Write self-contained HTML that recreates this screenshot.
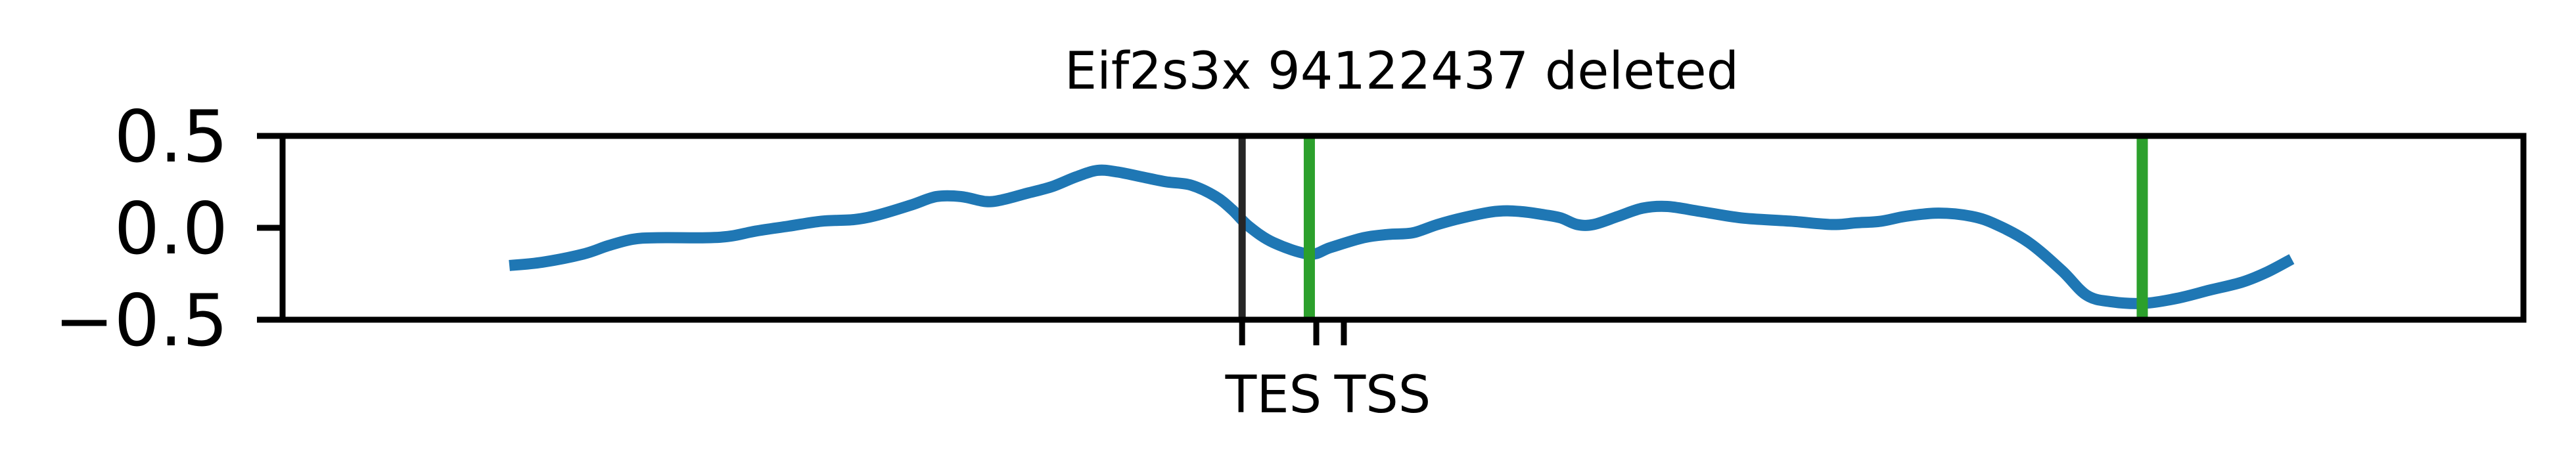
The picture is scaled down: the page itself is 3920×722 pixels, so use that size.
<!DOCTYPE html>
<html><head><meta charset="utf-8">
<style>
html,body{margin:0;padding:0;background:#fff;}
svg{display:block;font-family:"DejaVu Sans","Liberation Sans",sans-serif;}
</style></head>
<body>
<svg id="chart" width="3920" height="722" viewBox="0 0 3920 722" xmlns="http://www.w3.org/2000/svg">
<rect width="3920" height="722" fill="#fff"/>
<text x="2133" y="135" font-size="78" text-anchor="middle">Eif2s3x 94122437 deleted</text>
<g id="plot"></g>
</svg>
<script>
const xPos = [10.12,11.58,13.42,14.52,15.62,16.72,18.91,20.01,21.11,22.58,24.05,25.51,26.61,28.08,29.18,30.28,31.38,32.11,33.21,34.31,35.41,36.36,37.24,38.34,39.44,40.54,41.64,42.38,43.11,44.21,45.82,46.77,48.24,49.34,50.44,51.54,52.64,54.11,55.21,56.30,57.04,57.77,58.50,59.60,60.70,61.80,63.27,65.10,67.30,69.13,70.23,71.33,72.43,73.90,75.37,76.47,77.93,79.40,80.50,81.60,83.06,84.53,86.00,87.46,88.56,89.66];
const signal = [-0.205,-0.1875,-0.143,-0.098,-0.0625,-0.054,-0.054,-0.045,-0.018,0.009,0.036,0.045,0.071,0.125,0.170,0.170,0.143,0.152,0.1875,0.223,0.277,0.3125,0.304,0.277,0.25,0.232,0.170,0.098,0.009,-0.080,-0.143,-0.107,-0.054,-0.036,-0.027,0.018,0.054,0.089,0.089,0.071,0.054,0.018,0.018,0.0625,0.107,0.116,0.089,0.054,0.036,0.018,0.027,0.036,0.0625,0.080,0.0625,0.018,-0.080,-0.232,-0.366,-0.402,-0.411,-0.384,-0.339,-0.295,-0.241,-0.170];
const yTicks = [0.5, 0.0, -0.5];
const yTickLabels = ["0.5", "0.0", "\u22120.5"];
const tesLine = [42.82];
const deletionLines = [45.82, 82.99];
const xTicks = [42.82, 46.13, 47.36];
const xLabels = ["TES", "TSS"];
const xLabelPos = [44.22, 49.09];

const L=430,R=3840,T=207,B=487, XMIN=0,XMAX=100,YMIN=-0.5,YMAX=0.5;
const sx=v=>L+(v-XMIN)/(XMAX-XMIN)*(R-L);
const sy=v=>B-(v-YMIN)/(YMAX-YMIN)*(B-T);
const NS="http://www.w3.org/2000/svg";
const g=document.getElementById('plot');
function mk(tag,attrs){const e=document.createElementNS(NS,tag);for(const k in attrs)e.setAttribute(k,attrs[k]);g.appendChild(e);return e;}

const pts=xPos.map((x,i)=>[sx(x),sy(signal[i])]);
let d='M'+pts[0][0].toFixed(1)+' '+pts[0][1].toFixed(1);
for(let i=0;i<pts.length-1;i++){
  const p0=pts[Math.max(0,i-1)],p1=pts[i],p2=pts[i+1],p3=pts[Math.min(pts.length-1,i+2)];
  const c1=[p1[0]+(p2[0]-p0[0])/6,p1[1]+(p2[1]-p0[1])/6];
  const c2=[p2[0]-(p3[0]-p1[0])/6,p2[1]-(p3[1]-p1[1])/6];
  d+='C'+c1[0].toFixed(1)+' '+c1[1].toFixed(1)+' '+c2[0].toFixed(1)+' '+c2[1].toFixed(1)+' '+p2[0].toFixed(1)+' '+p2[1].toFixed(1);
}
const p=mk('path',{d:d,fill:'none',stroke:'#1f77b4','stroke-width':17,'stroke-linejoin':'round'});



tesLine.forEach(x=>{
  const l=mk('line',{x1:sx(x),x2:sx(x),y1:T,y2:B,stroke:'#262626','stroke-width':11});
  
  
});
deletionLines.forEach(x=>{
  const l=mk('line',{x1:sx(x),x2:sx(x),y1:T,y2:B,stroke:'#2ca02c','stroke-width':17});
  
  
});

const fr=mk('rect',{x:L,y:T,width:R-L,height:B-T,fill:'none',stroke:'#000','stroke-width':9});



yTicks.forEach((v,i)=>{
  const t=mk('line',{x1:L-39,x2:L,y1:sy(v),y2:sy(v),stroke:'#000','stroke-width':9});
  
  
  const tx=mk('text',{x:L-83,y:sy(v)+39,'font-size':109,'text-anchor':'end'});
  tx.textContent=yTickLabels[i];
  
  
});
xTicks.forEach(v=>{
  const t=mk('line',{x1:sx(v),x2:sx(v),y1:B,y2:B+39,stroke:'#000','stroke-width':9});
  
  
});
xLabels.forEach((s,i)=>{
  const tx=mk('text',{x:sx(xLabelPos[i]),y:628,'font-size':78,'text-anchor':'middle'});
  tx.textContent=s;
  
  
});
</script>
</body></html>
